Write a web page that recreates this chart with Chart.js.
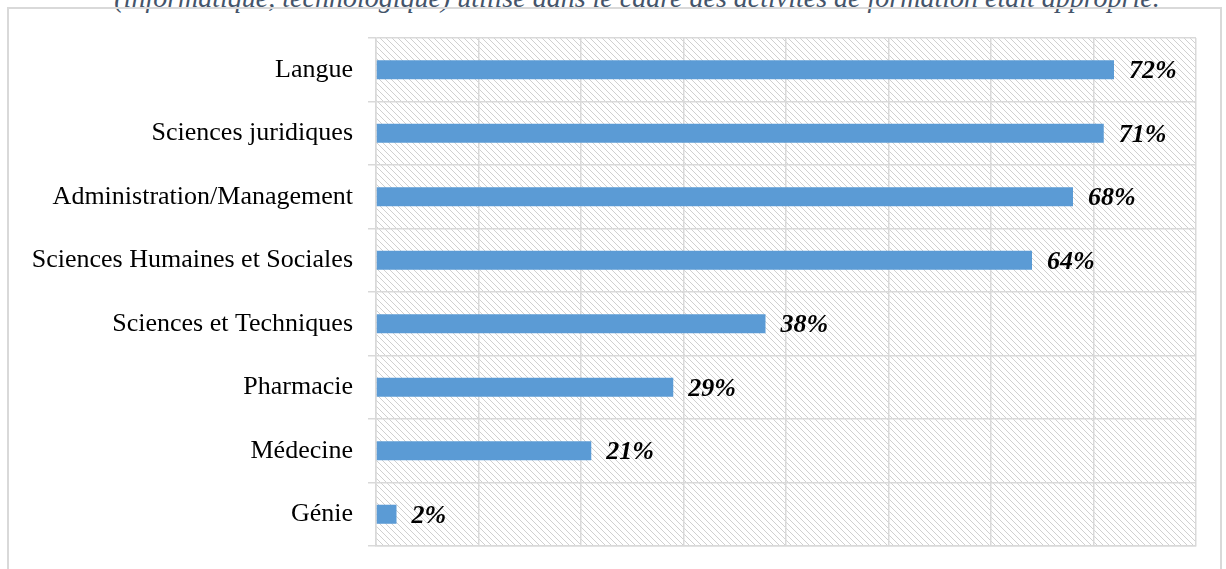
<!DOCTYPE html>
<html>
<head>
<meta charset="utf-8">
<script src="https://cdn.jsdelivr.net/npm/chart.js@4"></script>
<style>
  html, body { margin: 0; padding: 0; background: #fff; overflow: hidden; }
  #page { position: relative; width: 1226px; height: 569px; overflow: hidden; }
  #titre {
    position: absolute; top: -16px; left: 637px; transform: translateX(-50%);
    white-space: nowrap; font-family: "Liberation Serif", serif; font-style: italic;
    font-size: 28px; line-height: 28px; color: #44546A;
  }
  #cadre {
    position: absolute; left: 7px; top: 7px; width: 1211px; height: 600px;
    border: 2px solid #d9d9d9;
  }
  #graphique { position: absolute; left: 0; top: 0; }
</style>
</head>
<body>
<div id="page">
  <div id="titre">(informatique, technologique) utilisé dans le cadre des activités de formation était approprié.</div>
  <div id="cadre"></div>
  <canvas id="graphique" width="1226" height="569"></canvas>
</div>
<script>
// Données
const categories = ['Langue', 'Sciences juridiques', 'Administration/Management',
    'Sciences Humaines et Sociales', 'Sciences et Techniques', 'Pharmacie', 'Médecine', 'Génie'];
const pourcentages = [72, 71, 68, 64, 38, 29, 21, 2];
const axeMin = 0;
const axeMax = 80;
const axePas = 10;

const couleurGrille = '#d9d9d9';

// Fond hachuré de la zone de tracé
function creerHachures() {
    const c = document.createElement('canvas');
    c.width = 6;
    c.height = 6;
    const ctx = c.getContext('2d');
    ctx.strokeStyle = '#d0d0d0';
    ctx.lineWidth = 1;
    ctx.beginPath();
    ctx.moveTo(-1, -1); ctx.lineTo(7, 7);
    ctx.moveTo(-1, 5); ctx.lineTo(1, 7);
    ctx.moveTo(5, -1); ctx.lineTo(7, 1);
    ctx.stroke();
    return c;
}

const pluginHachures = {
    id: 'hachures',
    beforeDraw(chart) {
        const { ctx, chartArea } = chart;
        ctx.save();
        ctx.fillStyle = ctx.createPattern(creerHachures(), 'repeat');
        ctx.fillRect(chartArea.left, chartArea.top, chartArea.right - chartArea.left, chartArea.bottom - chartArea.top);
        ctx.restore();
    }
};

// Étiquettes de valeurs à droite des barres
const pluginEtiquettes = {
    id: 'etiquettes',
    afterDatasetsDraw(chart) {
        const { ctx } = chart;
        const meta = chart.getDatasetMeta(0);
        ctx.save();
        ctx.font = 'italic bold 26px "Liberation Serif"';
        ctx.fillStyle = '#000';
        ctx.textBaseline = 'middle';
        ctx.textAlign = 'left';
        meta.data.forEach((barre, i) => {
            ctx.fillText(pourcentages[i] + '%', barre.x + 15, barre.y + 2);
        });
        ctx.restore();
    }
};

new Chart(document.getElementById('graphique'), {
    type: 'bar',
    data: {
        labels: categories,
        datasets: [{
            data: pourcentages,
            backgroundColor: '#5B9BD5',
            categoryPercentage: 1,
            barPercentage: 0.3
        }]
    },
    options: {
        indexAxis: 'y',
        responsive: false,
        animation: false,
        layout: { padding: { top: 38, bottom: 23, right: 30, left: 0 } },
        plugins: {
            legend: { display: false },
            tooltip: { enabled: false }
        },
        scales: {
            x: {
                min: axeMin,
                max: axeMax,
                ticks: { display: false, stepSize: axePas },
                grid: { color: couleurGrille, lineWidth: 1.5, drawTicks: false },
                border: { color: couleurGrille, width: 1.5 },
                afterFit(scale) {
                    scale.height = 0;
                    scale.paddingLeft = 0;
                    scale.paddingRight = 0;
                }
            },
            y: {
                ticks: {
                    color: '#000',
                    padding: 15,
                    font: { family: '"Liberation Serif"', size: 26 }
                },
                grid: { color: couleurGrille, lineWidth: 1.5, offset: true, tickLength: 8 },
                border: { color: couleurGrille, width: 1.5 },
                afterFit(scale) {
                    scale.width = 376;
                    scale.paddingTop = 0;
                    scale.paddingBottom = 0;
                }
            }
        }
    },
    plugins: [pluginHachures, pluginEtiquettes]
});
</script>
</body>
</html>
